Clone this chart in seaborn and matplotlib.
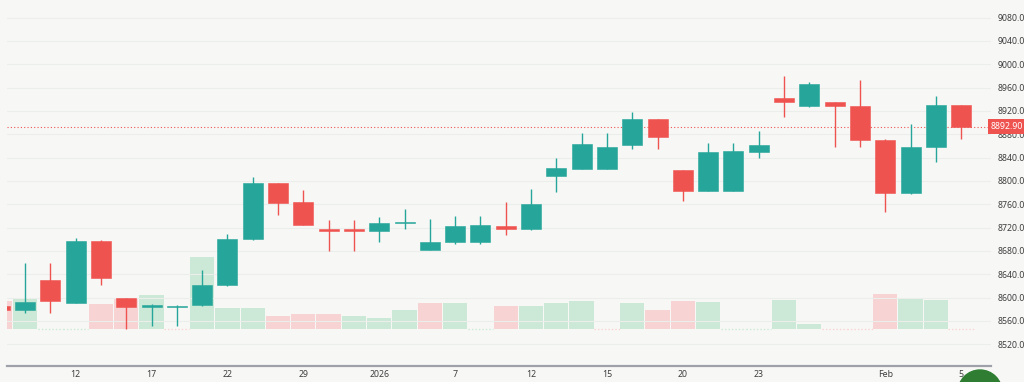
import numpy as np
import pandas as pd
import matplotlib
matplotlib.use("Agg")
import matplotlib.pyplot as plt
from matplotlib.patches import Ellipse
import seaborn as sns

# ---- data (ASX 200 style daily candles) ----
opens  = [8586, 8578, 8631, 8591, 8697, 8599, 8584, 8584, 8587, 8621,
          8700, 8796, 8764, 8717, 8717, 8714, 8728, 8682, 8695, 8695,
          8722, 8717, 8809, 8821, 8821, 8862, 8906, 8818, 8783, 8783,
          8849, 8943, 8928, 8935, 8929, 8871, 8779, 8858, 8930]
highs  = [8588, 8659, 8659, 8703, 8698, 8600, 8589, 8587, 8647, 8709,
          8806, 8797, 8785, 8733, 8733, 8739, 8752, 8735, 8740, 8740,
          8764, 8786, 8839, 8882, 8882, 8918, 8907, 8819, 8865, 8865,
          8886, 8980, 8970, 8936, 8973, 8872, 8898, 8946, 8931]
lows   = [8577, 8573, 8573, 8590, 8622, 8546, 8551, 8551, 8586, 8620,
          8699, 8742, 8724, 8680, 8680, 8696, 8718, 8681, 8692, 8692,
          8707, 8716, 8781, 8820, 8820, 8855, 8855, 8766, 8782, 8782,
          8840, 8909, 8927, 8859, 8859, 8747, 8778, 8833, 8872]
closes = [8579, 8592, 8594, 8697, 8634, 8584, 8588, 8586, 8622, 8700,
          8796, 8763, 8725, 8714, 8714, 8728, 8730, 8696, 8722, 8724,
          8718, 8760, 8822, 8863, 8859, 8906, 8875, 8783, 8850, 8851,
          8861, 8935, 8967, 8928, 8870, 8779, 8859, 8930, 8892.9]
volumes = [28, 30, 0, 0, 25, 31, 34, 0, 72, 21,
           21, 13, 15, 15, 13, 11, 19, 26, 26, 0,
           23, 23, 26, 28, 0, 26, 19, 28, 27, 0,
           0, 29, 5, 0, 0, 35, 30, 29, 0]
tick_idx = [3, 6, 9, 12, 15, 18, 21, 24, 27, 30, 35, 38]
tick_labels = ["12", "17", "22", "29", "2026", "7", "12", "15", "20", "23", "Feb", "5"]
price_ticks = list(range(8520, 9081, 40))
last_price = 8892.9

UP, DOWN = "#26a69a", "#ef5350"
VOL_UP, VOL_DOWN = "#cce8d6", "#f8d3d3"
BG = "#f7f8f6"

n = len(opens)
idx = np.arange(n)
o, h, l, c = map(np.asarray, (opens, highs, lows, closes))
up = c >= o
prev_c = np.concatenate([[o[0]], c[:-1]])
vol_dir = np.where(c >= prev_c, "up", "down")
vol_dir[0] = "up" if up[0] else "down"

df = pd.DataFrame({"idx": idx, "vol": volumes, "dir": vol_dir})

sns.set_theme(style="white")
plt.rcParams["font.family"] = ["Noto Sans", "DejaVu Sans"]

fig = plt.figure(figsize=(10.24, 3.82), dpi=100, facecolor=BG)
W, H = 1024, 382
ax = fig.add_axes([7 / W, (H - 366) / H, (991 - 7) / W, 366 / H])
ax_vol = ax.twinx()
ax_vol.set_zorder(ax.get_zorder() - 1)
ax.patch.set_visible(False)
ax_vol.patch.set_facecolor(BG)

# volume bars (seaborn)
sns.barplot(data=df, x="idx", y="vol", hue="dir", dodge=False, native_scale=True,
            palette={"up": VOL_UP, "down": VOL_DOWN}, saturation=1, width=0.96,
            legend=False, errorbar=None, ax=ax_vol, linewidth=0)
for i in idx[np.asarray(volumes) == 0]:
    col = VOL_UP if vol_dir[i] == "up" else VOL_DOWN
    ax_vol.hlines(0.5, i - 0.5, i + 0.5, colors=col, linestyles=(0, (1, 1.5)), lw=1.0)
ax_vol.set_ylim(-37, 329)
ax_vol.set_yticks([])
ax_vol.set_xlabel("")
ax_vol.set_ylabel("")

# price grid
for p in price_ticks:
    ax.axhline(p, color="#eceeec", lw=0.8, zorder=0)

# candles
cols = np.where(up, UP, DOWN)
body_lo = np.minimum(o, c)
body_h = np.maximum(np.abs(c - o), 1.2)
ax.vlines(idx, l, h, colors=cols, lw=1.0, zorder=2)
ax.bar(idx, body_h, bottom=body_lo, width=0.79, color=cols, edgecolor=cols,
       linewidth=0.4, zorder=3)

# last price line and label
ax.axhline(last_price, color=DOWN, lw=0.8, ls=(0, (1, 2)), zorder=1)
ax.text(1.0, last_price, f"{last_price:.2f}", transform=ax.get_yaxis_transform(),
        ha="left", va="center", color="white", fontsize=6.3, zorder=10,
        bbox=dict(boxstyle="square,pad=0.35", fc=DOWN, ec="none"), clip_on=False)

ax.set_ylim(8482.8, 9110.2)
ax.set_xlim(0.2885, 39.18)
ax.yaxis.tick_right()
ax.set_yticks(price_ticks)
ax.set_yticklabels([f"{p:.2f}" for p in price_ticks])
ax.set_xticks(tick_idx)
ax.set_xticklabels(tick_labels)
ax.tick_params(axis="y", length=0, pad=4.5, labelsize=6.3, colors="#3d3d3d")
ax.tick_params(axis="x", length=0, pad=3, labelsize=6.3, colors="#3d3d3d")
ax_vol.tick_params(axis="x", length=0)
for a in (ax, ax_vol):
    for s in ("top", "left", "right"):
        a.spines[s].set_visible(False)
    a.spines["bottom"].set_visible(False)
ax.spines["bottom"].set_visible(True)
ax.spines["bottom"].set_color("#9ea1a9")
ax.spines["bottom"].set_linewidth(1.6)
ax.set_xlabel("")
ax.set_ylabel("")

# decorative round button at bottom-right
fig.add_artist(Ellipse((980 / W, 1 - 392 / H), 44 / W, 44 / H,
                       transform=fig.transFigure, color="#2e7d32", zorder=20))

fig.savefig("out.png", dpi=100, facecolor=BG)
